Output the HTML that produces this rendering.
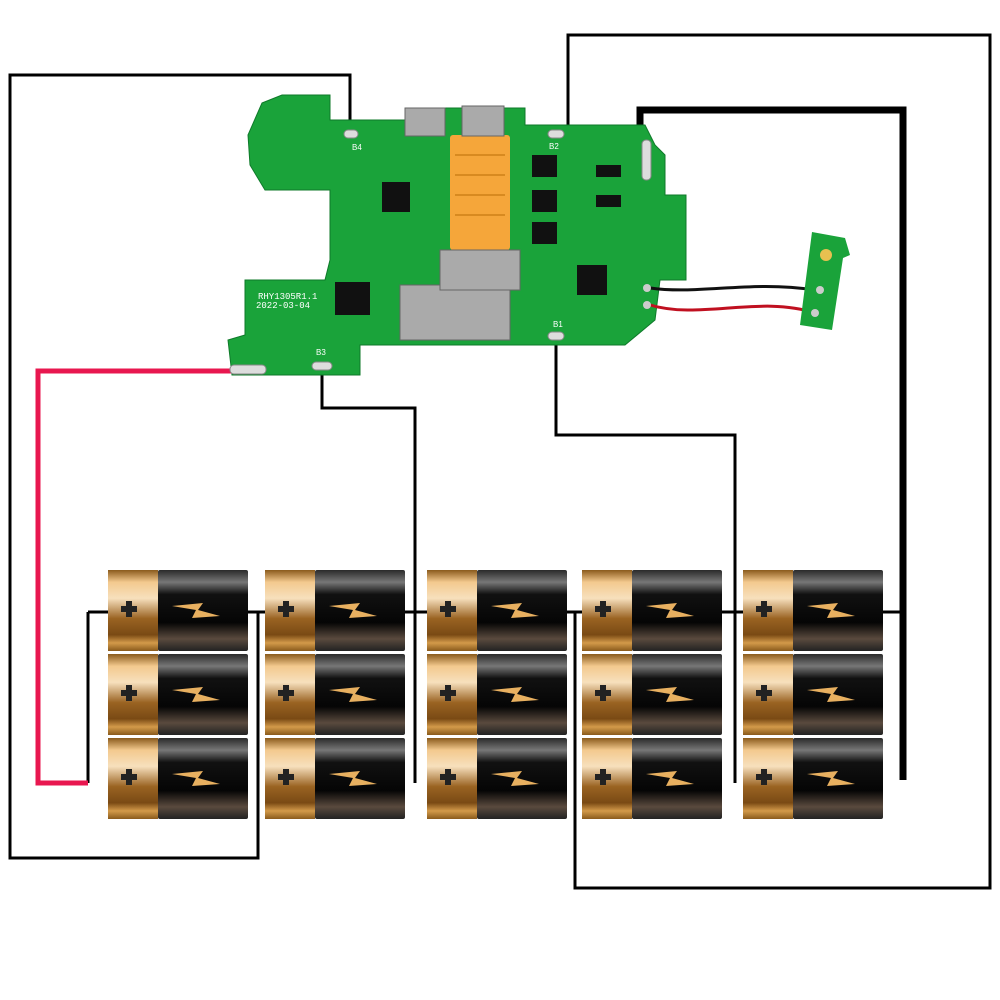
<!DOCTYPE html>
<html><head><meta charset="utf-8"><style>html,body{margin:0;padding:0;background:#fff}svg{display:block}</style></head>
<body>
<svg width="1000" height="1000" viewBox="0 0 1000 1000" xmlns="http://www.w3.org/2000/svg">
<defs>
<linearGradient id="cu" x1="0" y1="0" x2="0" y2="1">
<stop offset="0" stop-color="#8a5a1c"/><stop offset="0.15" stop-color="#f3c98e"/><stop offset="0.35" stop-color="#f7e0bd"/><stop offset="0.6" stop-color="#9a6322"/><stop offset="0.8" stop-color="#7a4a14"/><stop offset="0.9" stop-color="#d39a4a"/><stop offset="1" stop-color="#8a5a1c"/>
</linearGradient>
<linearGradient id="bk" x1="0" y1="0" x2="0" y2="1">
<stop offset="0" stop-color="#2a2a2a"/><stop offset="0.15" stop-color="#777"/><stop offset="0.3" stop-color="#111"/><stop offset="0.65" stop-color="#050505"/><stop offset="0.85" stop-color="#5a4a3e"/><stop offset="1" stop-color="#222"/>
</linearGradient>
<g id="bat">
<rect x="0" y="0" width="50" height="81" fill="url(#cu)"/>
<rect x="50" y="0" width="90" height="81" fill="url(#bk)" rx="2"/>
<rect x="13" y="36" width="16" height="6" fill="#222"/>
<rect x="18" y="31" width="6" height="16" fill="#222"/>
<path d="M64 36 L95 33 L90 40 L112 46 L84 48 L88 40 Z" fill="#e8b060"/>
</g>
</defs>

<!-- wires -->
<g fill="none" stroke="#000" stroke-width="3">
<polyline points="350,130 350,75 10,75 10,858 258,858 258,612"/>
<polyline points="88,612 88,783"/>
<polyline points="88,612 110,612 M88,697 110,697 M88,783 110,783"/>
<polyline points="248,612 268,612 M248,697 268,697 M248,783 268,783 M258,612 258,783"/>
<polyline points="322,368 322,408 415,408 415,783"/>
<polyline points="405,612 430,612 M405,697 430,697 M405,783 430,783"/>
<polyline points="568,130 568,35 990,35 990,888 575,888 575,612"/>
<polyline points="567,612 585,612 M567,697 585,697 M567,783 585,783 M575,612 575,783"/>
<polyline points="556,335 556,435 735,435 735,783"/>
<polyline points="722,612 745,612 M722,697 745,697 M722,783 745,783"/>
<polyline points="883,612 903,612 M883,697 903,697 M883,783 903,783"/>
</g>
<polyline points="640,178 640,110 903,110 903,780" fill="none" stroke="#000" stroke-width="7"/>
<polyline points="268,371 38,371 38,783 88,783" fill="none" stroke="#e8174f" stroke-width="5"/>

<!-- PCB -->
<path d="M262,103 L282,95 L330,95 L330,120 L405,120 L405,108 L525,108 L525,125 L645,125 L655,145 L665,155 L665,195 L686,195 L686,280 L660,280 L655,320 L625,345 L560,345 L420,345 L360,345 L360,375 L232,375 L228,340 L245,335 L245,280 L325,280 L330,260 L330,190 L265,190 L250,165 L248,135 Z" fill="#1aa33a" stroke="#0f7a2a" stroke-width="1"/>
<rect x="450" y="135" width="60" height="115" fill="#f5a63a" rx="3"/>
<g stroke="#d88a20" stroke-width="2"><line x1="455" y1="155" x2="505" y2="155"/><line x1="455" y1="175" x2="505" y2="175"/><line x1="455" y1="195" x2="505" y2="195"/><line x1="455" y1="215" x2="505" y2="215"/></g>
<g fill="#aaa" stroke="#666"><rect x="405" y="108" width="40" height="28"/><rect x="462" y="106" width="42" height="30"/><rect x="400" y="285" width="110" height="55"/><rect x="440" y="250" width="80" height="40"/></g>
<g fill="#111"><rect x="532" y="155" width="25" height="22"/><rect x="532" y="190" width="25" height="22"/><rect x="532" y="222" width="25" height="22"/><rect x="382" y="182" width="28" height="30"/><rect x="577" y="265" width="30" height="30"/><rect x="335" y="282" width="35" height="33"/><rect x="596" y="165" width="25" height="12"/><rect x="596" y="195" width="25" height="12"/></g>
<text x="258" y="299" font-family="Liberation Mono, monospace" font-size="9" fill="#fff">RHY1305R1.1</text>
<text x="256" y="308" font-family="Liberation Mono, monospace" font-size="9" fill="#fff">2022-03-04</text>
<g font-family="Liberation Sans, sans-serif" font-size="8" fill="#fff"><text x="352" y="150">B4</text><text x="549" y="149">B2</text><text x="316" y="355">B3</text><text x="553" y="327">B1</text></g>
<g fill="#ddd" stroke="#888"><rect x="344" y="130" width="14" height="8" rx="4"/><rect x="548" y="130" width="16" height="8" rx="4"/><rect x="312" y="362" width="20" height="8" rx="4"/><rect x="548" y="332" width="16" height="8" rx="4"/><rect x="230" y="365" width="36" height="9" rx="4"/><rect x="642" y="140" width="9" height="40" rx="4"/></g>

<!-- small board and wires -->
<path d="M650,288 C700,295 750,280 815,290" fill="none" stroke="#111" stroke-width="3"/>
<path d="M650,305 C700,320 760,295 815,313" fill="none" stroke="#c01020" stroke-width="3"/>
<path d="M812,232 L845,238 L850,255 L843,258 L832,330 L800,325 Z" fill="#1aa33a"/>
<circle cx="826" cy="255" r="6" fill="#e8c050"/>
<circle cx="820" cy="290" r="4" fill="#ccc"/><circle cx="815" cy="313" r="4" fill="#ccc"/>
<circle cx="647" cy="288" r="4" fill="#ccc"/><circle cx="647" cy="305" r="4" fill="#ccc"/>

<!-- batteries -->
<g>
<use href="#bat" x="108" y="570"/><use href="#bat" x="108" y="654"/><use href="#bat" x="108" y="738"/>
<use href="#bat" x="265" y="570"/><use href="#bat" x="265" y="654"/><use href="#bat" x="265" y="738"/>
<use href="#bat" x="427" y="570"/><use href="#bat" x="427" y="654"/><use href="#bat" x="427" y="738"/>
<use href="#bat" x="582" y="570"/><use href="#bat" x="582" y="654"/><use href="#bat" x="582" y="738"/>
<use href="#bat" x="743" y="570"/><use href="#bat" x="743" y="654"/><use href="#bat" x="743" y="738"/>
</g>
</svg>
</body></html>
